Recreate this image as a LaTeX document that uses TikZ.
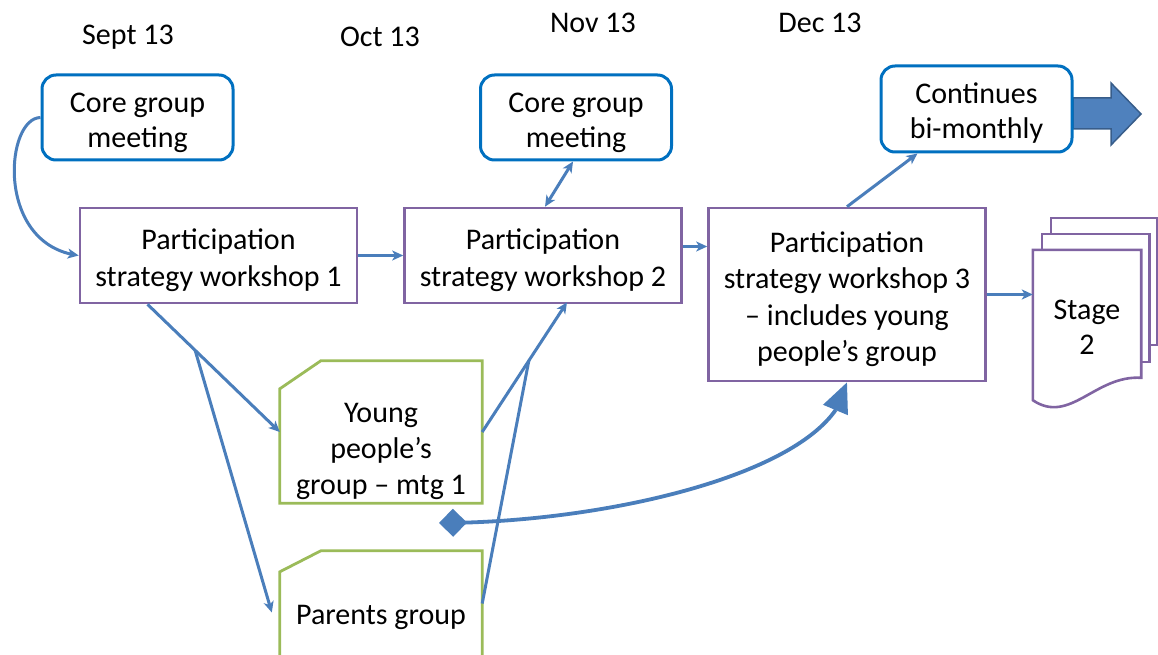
\documentclass[tikz,border=0pt]{standalone}
\usepackage{fontspec}
\setmainfont{Carlito}
\usetikzlibrary{arrows.meta,calc,bending}
\definecolor{bluebox}{HTML}{0070C0}
\definecolor{purp}{HTML}{8064A2}
\definecolor{grn}{HTML}{9BBB59}
\definecolor{connc}{HTML}{4A7EBB}
\definecolor{arrfill}{HTML}{4F81BD}
\definecolor{arrline}{HTML}{385D8A}
\newcommand\zt{\rule{0pt}{33pt}}
\newcommand\zb{\rule[-8pt]{0pt}{8pt}}
\begin{document}
\begin{tikzpicture}[x=1pt,y=-1pt,
  every node/.style={font=\fontsize{30}{35}\selectfont, inner sep=0pt, align=center},
  corebox/.style={draw=bluebox, line width=3pt, rounded corners=14pt, fill=white, minimum width=191pt, minimum height=85pt},
  pswbox/.style={draw=purp, line width=2.6pt, fill=white, minimum width=277pt, minimum height=95pt, font=\fontsize{30}{36.5}\selectfont},
  snipbox/.style={minimum width=202pt, minimum height=142pt},
  snipline/.style={draw=grn, line width=2.8pt, fill=white},
  page/.style={draw=purp, line width=2.6pt, fill=white},
  conn/.style={draw=connc, line width=3pt, -{Stealth[length=11pt,width=10pt,inset=3pt]}},
  dconn/.style={draw=connc, line width=3pt, {Stealth[length=11pt,width=10pt,inset=3pt]}-{Stealth[length=11pt,width=10pt,inset=3pt]}},
  plain/.style={draw=connc, line width=3pt},
  bigconn/.style={draw=connc, line width=3.8pt, {Diamond[length=28pt,width=28pt]}-{Triangle[length=30pt,width=26pt,flex]}}
]
\useasboundingbox (0,0) rectangle (1158,655);
\clip (0,0) rectangle (1158,655);

% date labels
\node (d1) at (128,37) {Sept 13};
\node (d2) at (380,37) {Oct 13};
\node (d3) at (593,23) {Nov 13};
\node (d4) at (820,23) {Dec 13};

% big block arrow behind "Continues" box
\path[fill=arrfill, draw=arrline, line width=1.5pt]
  (1073,98) -- (1111,98) -- (1111,83) -- (1141,114) -- (1111,145) -- (1111,129) -- (1073,129) -- cycle;

% boxes
\node[corebox] (core1) at (137.5,117.5) {\zt Core group\\meeting\zb};
\node[corebox] (core2) at (576,117.5) {\zt Core group\\meeting\zb};
\node[corebox, minimum height=86pt] (cont) at (976.5,109) {\zt Continues\\bi-monthly\zb};
\node[pswbox] (psw1) at (218.5,255.5) {\zt Participation\\strategy workshop 1\zb};
\node[pswbox] (psw2) at (543,255.5) {\zt Participation\\strategy workshop 2\zb};
\node[pswbox, minimum height=173pt] (psw3) at (847,294.5) {\zt Participation\\strategy workshop 3\\– includes young\\people’s group\zb};

% young people's group (snipped corner)
\node[snipbox] (yp) at (381,432) {};
\path[snipline] ($(yp.north west)+(0,28)$) -- ($(yp.north west)+(41,0)$) -- (yp.north east) -- (yp.south east) -- (yp.south west) -- cycle;
\node[font=\fontsize{30}{36}\selectfont] (ypt) at (381,446) {\zt Young\\people’s\\group – mtg 1\zb};

% parents group (snipped corner)
\node[snipbox, minimum height=129pt] (pg) at (381,615.5) {};
\path[snipline] ($(pg.north west)+(0,21)$) -- ($(pg.north west)+(41,0)$) -- (pg.north east) -- (pg.south east) -- (pg.south west) -- cycle;
\node (pgt) at (381,611.5) {\zt Parents group\zb};

% Stage 2 multi-document
\node[minimum width=108pt, minimum height=150pt] (stage) at (1087,325) {};
\path[page] ($(stage.north west)+(18,-32)$) rectangle ($(stage.north east)+(16,95)$);
\path[page] ($(stage.north west)+(9,-16)$) rectangle ($(stage.north east)+(8,112)$);
\path[page] (stage.north west) -- (stage.south west)
   .. controls +(37,25) and +(-46,-3) .. ($(stage.north east)+(0,128)$) -- (stage.north east) -- cycle;
\node (stt) at (1087,324) {\zt Stage\\2\zb};

% connectors
\draw[conn] (core1.west) .. controls (5,118) and (-5,245) .. (psw1.west);
\draw[conn] (psw1.east) -- (psw2.west);
\draw[conn] ([yshift=9pt]psw2.east) coordinate (a1) -- (a1 -| psw3.west);
\draw[dconn] ([xshift=-3pt]core2.south) -- ([xshift=2pt]psw2.north);
\draw[conn] (psw3.north) -- ([xshift=38pt]cont.south west);
\draw[conn] (psw3.east) -- (psw3.east -| stage.west);

\coordinate (d0) at (439,523);
\draw[bigconn] (d0) .. controls (610,523) and (835,470) .. (psw3.south);

\coordinate (s1) at ([xshift=-71pt]psw1.south);
\draw[conn] (s1) -- coordinate[pos=0.36] (b1) (yp.west);
\draw[conn] (b1) -- ([xshift=-8pt,yshift=3pt]pg.west);
\draw[conn] (yp.east) -- coordinate[pos=0.55] (b2) ([xshift=24pt,yshift=2pt]psw2.south);
\draw[plain] ([yshift=12pt]pg.east) -- (b2);
\end{tikzpicture}
\end{document}
